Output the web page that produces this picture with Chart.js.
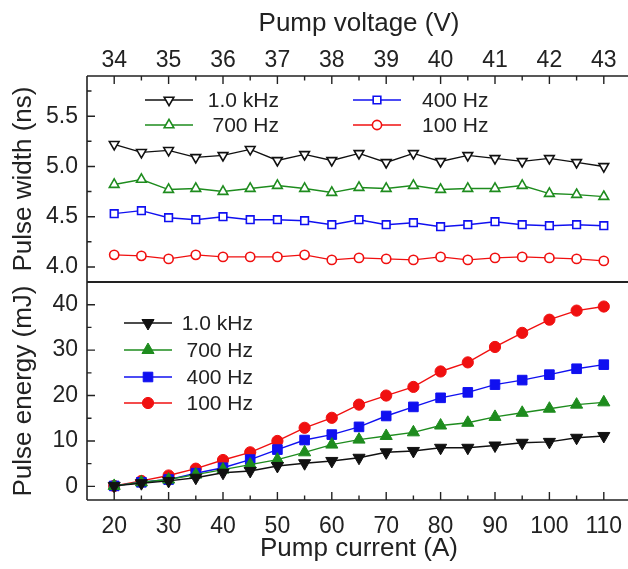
<!DOCTYPE html>
<html>
<head>
<meta charset="utf-8">
<script src="https://cdn.jsdelivr.net/npm/chart.js@4.4.0/dist/chart.umd.min.js"></script>
<style>
  html, body { margin: 0; padding: 0; background: #fff; overflow: hidden; }
  #wrap { width: 640px; height: 569px; }
</style>
</head>
<body>
<div id="wrap"><canvas id="chart" width="640" height="569"></canvas></div>
<script>
// pump current (A), shared by both panels
const current = [20, 25, 30, 35, 40, 45, 50, 55, 60, 65, 70, 75, 80, 85, 90, 95, 100, 105, 110];

// pulse width (ns)
const width1k  = [5.22, 5.14, 5.16, 5.09, 5.11, 5.17, 5.06, 5.12, 5.06, 5.13, 5.04, 5.13, 5.05, 5.11, 5.08, 5.05, 5.08, 5.04, 5.00];
const width700 = [4.82, 4.87, 4.77, 4.78, 4.75, 4.78, 4.81, 4.78, 4.74, 4.79, 4.78, 4.81, 4.77, 4.78, 4.78, 4.81, 4.73, 4.72, 4.70];
const width400 = [4.53, 4.56, 4.49, 4.47, 4.50, 4.47, 4.47, 4.46, 4.42, 4.47, 4.42, 4.44, 4.40, 4.42, 4.45, 4.42, 4.41, 4.42, 4.41];
const width100 = [4.12, 4.11, 4.08, 4.12, 4.10, 4.10, 4.10, 4.12, 4.07, 4.09, 4.08, 4.07, 4.10, 4.07, 4.09, 4.10, 4.09, 4.08, 4.06];

// pulse energy (mJ)
const energy1k  = [0.1, 0.7, 1.2, 1.9, 3.0, 3.4, 4.5, 5.1, 5.6, 6.3, 7.5, 7.8, 8.5, 8.5, 9.0, 9.6, 9.8, 10.7, 11.1];
const energy700 = [0.1, 0.9, 1.5, 2.6, 3.7, 4.8, 5.9, 7.5, 9.2, 10.3, 11.1, 11.9, 13.4, 14.0, 15.3, 16.2, 17.1, 18.0, 18.5];
const energy400 = [0.1, 0.9, 1.5, 2.9, 4.1, 5.9, 8.1, 10.2, 11.4, 13.1, 15.5, 17.5, 19.5, 20.7, 22.4, 23.4, 24.6, 25.9, 26.8];
const energy100 = [0.1, 1.2, 2.4, 3.9, 5.8, 7.5, 10.0, 12.9, 15.1, 18.0, 20.0, 21.9, 25.3, 27.3, 30.7, 33.8, 36.7, 38.7, 39.6];

const seriesLabels = ['1.0 kHz', '700 Hz', '400 Hz', '100 Hz'];

// tick labels
const currentTicks = [20, 30, 40, 50, 60, 70, 80, 90, 100, 110];
const voltageTicks = [34, 35, 36, 37, 38, 39, 40, 41, 42, 43];
const widthTicks = [4.0, 4.5, 5.0, 5.5];
const energyTicks = [0, 10, 20, 30, 40];

const FONT = "'Liberation Sans', Arial, sans-serif";
const INK = '#222';
const colors = ['#111111', '#1e8c1e', '#1010f0', '#f01010'];
const styles = [
  { pointStyle: 'triangle', rotation: 180 },
  { pointStyle: 'triangle', rotation: 0 },
  { pointStyle: 'rect', rotation: 0 },
  { pointStyle: 'circle', rotation: 0 }
];
const openRadius = [5.6, 5.6, 5.4, 4.6];
const fullRadius = [7, 7, 6.8, 5.6];

const toXY = ys => current.map((x, i) => ({ x: x, y: ys[i] }));

const widthSeries = [width1k, width700, width400, width100];
const energySeries = [energy1k, energy700, energy400, energy100];

const datasets = [];
widthSeries.forEach((ys, i) => {
  datasets.push({
    label: seriesLabels[i] + ' width',
    data: toXY(ys),
    yAxisID: 'yTop',
    borderColor: colors[i],
    backgroundColor: '#fff',
    borderWidth: 1.4,
    pointStyle: styles[i].pointStyle,
    pointRotation: styles[i].rotation,
    pointRadius: openRadius[i],
    pointBorderWidth: 1.6,
    pointBorderColor: colors[i],
    pointBackgroundColor: '#fff'
  });
});
energySeries.forEach((ys, i) => {
  datasets.push({
    label: seriesLabels[i] + ' energy',
    data: toXY(ys),
    yAxisID: 'yBot',
    borderColor: colors[i],
    backgroundColor: colors[i],
    borderWidth: 1.4,
    pointStyle: styles[i].pointStyle,
    pointRotation: styles[i].rotation,
    pointRadius: fullRadius[i],
    pointBorderWidth: 1,
    pointBorderColor: colors[i],
    pointBackgroundColor: colors[i]
  });
});

function minorsOf(major, min, max) {
  const step = major[1] - major[0];
  const out = [];
  for (let k = -1; k < major.length; k++) {
    const v = (k < 0 ? major[0] - step : major[k]) + step / 2;
    if (v > min + 1e-6 && v < max - 1e-6) out.push(v);
  }
  return out;
}

// frame, separator and inward ticks
const framePlugin = {
  id: 'frame',
  afterDraw(chart) {
    const { ctx, chartArea: a, scales } = chart;
    const sep = scales.yTop.bottom;
    ctx.save();
    ctx.strokeStyle = INK;
    ctx.lineWidth = 1.6;
    ctx.beginPath();
    ctx.moveTo(a.left, a.top); ctx.lineTo(a.right + 10, a.top);
    ctx.moveTo(a.left, a.bottom); ctx.lineTo(a.right + 10, a.bottom);
    ctx.moveTo(a.left, a.top); ctx.lineTo(a.left, a.bottom);
    ctx.stroke();
    ctx.lineWidth = 2.2;
    ctx.beginPath();
    ctx.moveTo(a.left, sep); ctx.lineTo(a.right + 10, sep);
    ctx.stroke();

    ctx.lineWidth = 1.4;
    const hTicks = (scale, y, dir, major) => {
      ctx.beginPath();
      major.forEach(v => { const x = scale.getPixelForValue(v); ctx.moveTo(x, y); ctx.lineTo(x, y + dir * 8); });
      minorsOf(major, scale.min, scale.max).forEach(v => { const x = scale.getPixelForValue(v); ctx.moveTo(x, y); ctx.lineTo(x, y + dir * 4.5); });
      ctx.stroke();
    };
    const vTicks = (scale, x, major) => {
      ctx.beginPath();
      major.forEach(v => { const y = scale.getPixelForValue(v); ctx.moveTo(x, y); ctx.lineTo(x + 8, y); });
      minorsOf(major, scale.min, scale.max).forEach(v => { const y = scale.getPixelForValue(v); ctx.moveTo(x, y); ctx.lineTo(x + 4.5, y); });
      ctx.stroke();
    };
    hTicks(scales.x, a.bottom, -1, currentTicks);
    hTicks(scales.xTop, a.top, 1, voltageTicks);
    vTicks(scales.yTop, a.left, widthTicks);
    vTicks(scales.yBot, a.left, energyTicks);
    ctx.restore();
  }
};

// legends drawn inside each panel
const legendPlugin = {
  id: 'panelLegends',
  afterDatasetsDraw(chart) {
    const { ctx, chartArea: a, scales } = chart;
    const item = (i, filled, lx, ly, tx, align) => {
      const r = filled ? fullRadius[i] : openRadius[i];
      const bw = filled ? 1 : 1.6;
      ctx.strokeStyle = colors[i];
      ctx.lineWidth = 1.4;
      ctx.beginPath();
      ctx.moveTo(lx - 24, ly); ctx.lineTo(lx + 24, ly);
      ctx.stroke();
      ctx.fillStyle = filled ? colors[i] : '#fff';
      ctx.lineWidth = bw;
      Chart.helpers.drawPoint(ctx, {
        pointStyle: styles[i].pointStyle,
        rotation: styles[i].rotation,
        radius: r,
        borderWidth: bw
      }, lx, ly);
      ctx.fillStyle = INK;
      ctx.textAlign = align;
      ctx.textBaseline = 'middle';
      ctx.fillText(seriesLabels[i], tx, ly + 1);
    };
    ctx.save();
    ctx.font = '21px ' + FONT;
    const t = a.top;
    item(0, false, a.left + 82, t + 24, a.left + 192, 'right');
    item(1, false, a.left + 82, t + 49, a.left + 192, 'right');
    item(2, false, a.left + 290, t + 24, a.left + 335, 'left');
    item(3, false, a.left + 290, t + 49, a.left + 335, 'left');
    const b = scales.yBot.top;
    [41, 68, 95, 121].forEach((dy, i) => item(i, true, a.left + 61, b + dy, a.left + 166, 'right'));
    ctx.restore();
  }
};

const tickFont = { family: FONT, size: 23 };
const titleFont = { family: FONT, size: 26 };

new Chart(document.getElementById('chart'), {
  type: 'line',
  data: { datasets: datasets },
  plugins: [framePlugin, legendPlugin],
  options: {
    responsive: false,
    animation: false,
    events: [],
    layout: { padding: { left: 0, right: 9, top: 0, bottom: 0 } },
    plugins: { legend: { display: false }, tooltip: { enabled: false } },
    scales: {
      x: {
        type: 'linear', position: 'bottom', min: 15, max: 115,
        grid: { display: false }, border: { display: false },
        afterBuildTicks: s => { s.ticks = currentTicks.map(v => ({ value: v })); },
        ticks: { font: tickFont, color: INK, padding: 5, maxRotation: 0, autoSkip: false, callback: v => String(v) },
        title: { display: true, text: 'Pump current (A)', font: titleFont, color: INK, padding: { top: 0, bottom: 5 } },
        afterFit: s => { s.height = 69; }
      },
      xTop: {
        type: 'linear', position: 'top', min: 33.5, max: 43.5,
        grid: { display: false, drawTicks: false }, border: { display: false },
        afterBuildTicks: s => { s.ticks = voltageTicks.map(v => ({ value: v })); },
        ticks: { font: tickFont, color: INK, padding: 2, maxRotation: 0, autoSkip: false, callback: v => String(v) },
        title: { display: true, text: 'Pump voltage (V)', font: titleFont, color: INK, padding: { top: 8, bottom: 0 } },
        afterFit: s => { s.height = 76; }
      },
      yBot: {
        type: 'linear', position: 'left', stack: 'panels', stackWeight: 218,
        min: -3, max: 45,
        grid: { display: false, drawTicks: false }, border: { display: false },
        afterBuildTicks: s => { s.ticks = energyTicks.map(v => ({ value: v })); },
        ticks: { font: tickFont, color: INK, padding: 9, autoSkip: false, callback: v => String(v) },
        title: { display: true, text: 'Pulse energy (mJ)', font: titleFont, color: INK, padding: { top: 8, bottom: 0 } },
        afterFit: s => { s.width = 87; }
      },
      yTop: {
        type: 'linear', position: 'left', stack: 'panels', stackWeight: 206,
        min: 3.85, max: 5.9,
        grid: { display: false, drawTicks: false }, border: { display: false },
        afterBuildTicks: s => { s.ticks = widthTicks.map(v => ({ value: v })); },
        ticks: { font: tickFont, color: INK, padding: 9, autoSkip: false, callback: v => v.toFixed(1) },
        title: { display: true, text: 'Pulse width (ns)', font: titleFont, color: INK, padding: { top: 8, bottom: 0 } },
        afterFit: s => { s.width = 87; }
      }
    }
  }
});
</script>
</body>
</html>
